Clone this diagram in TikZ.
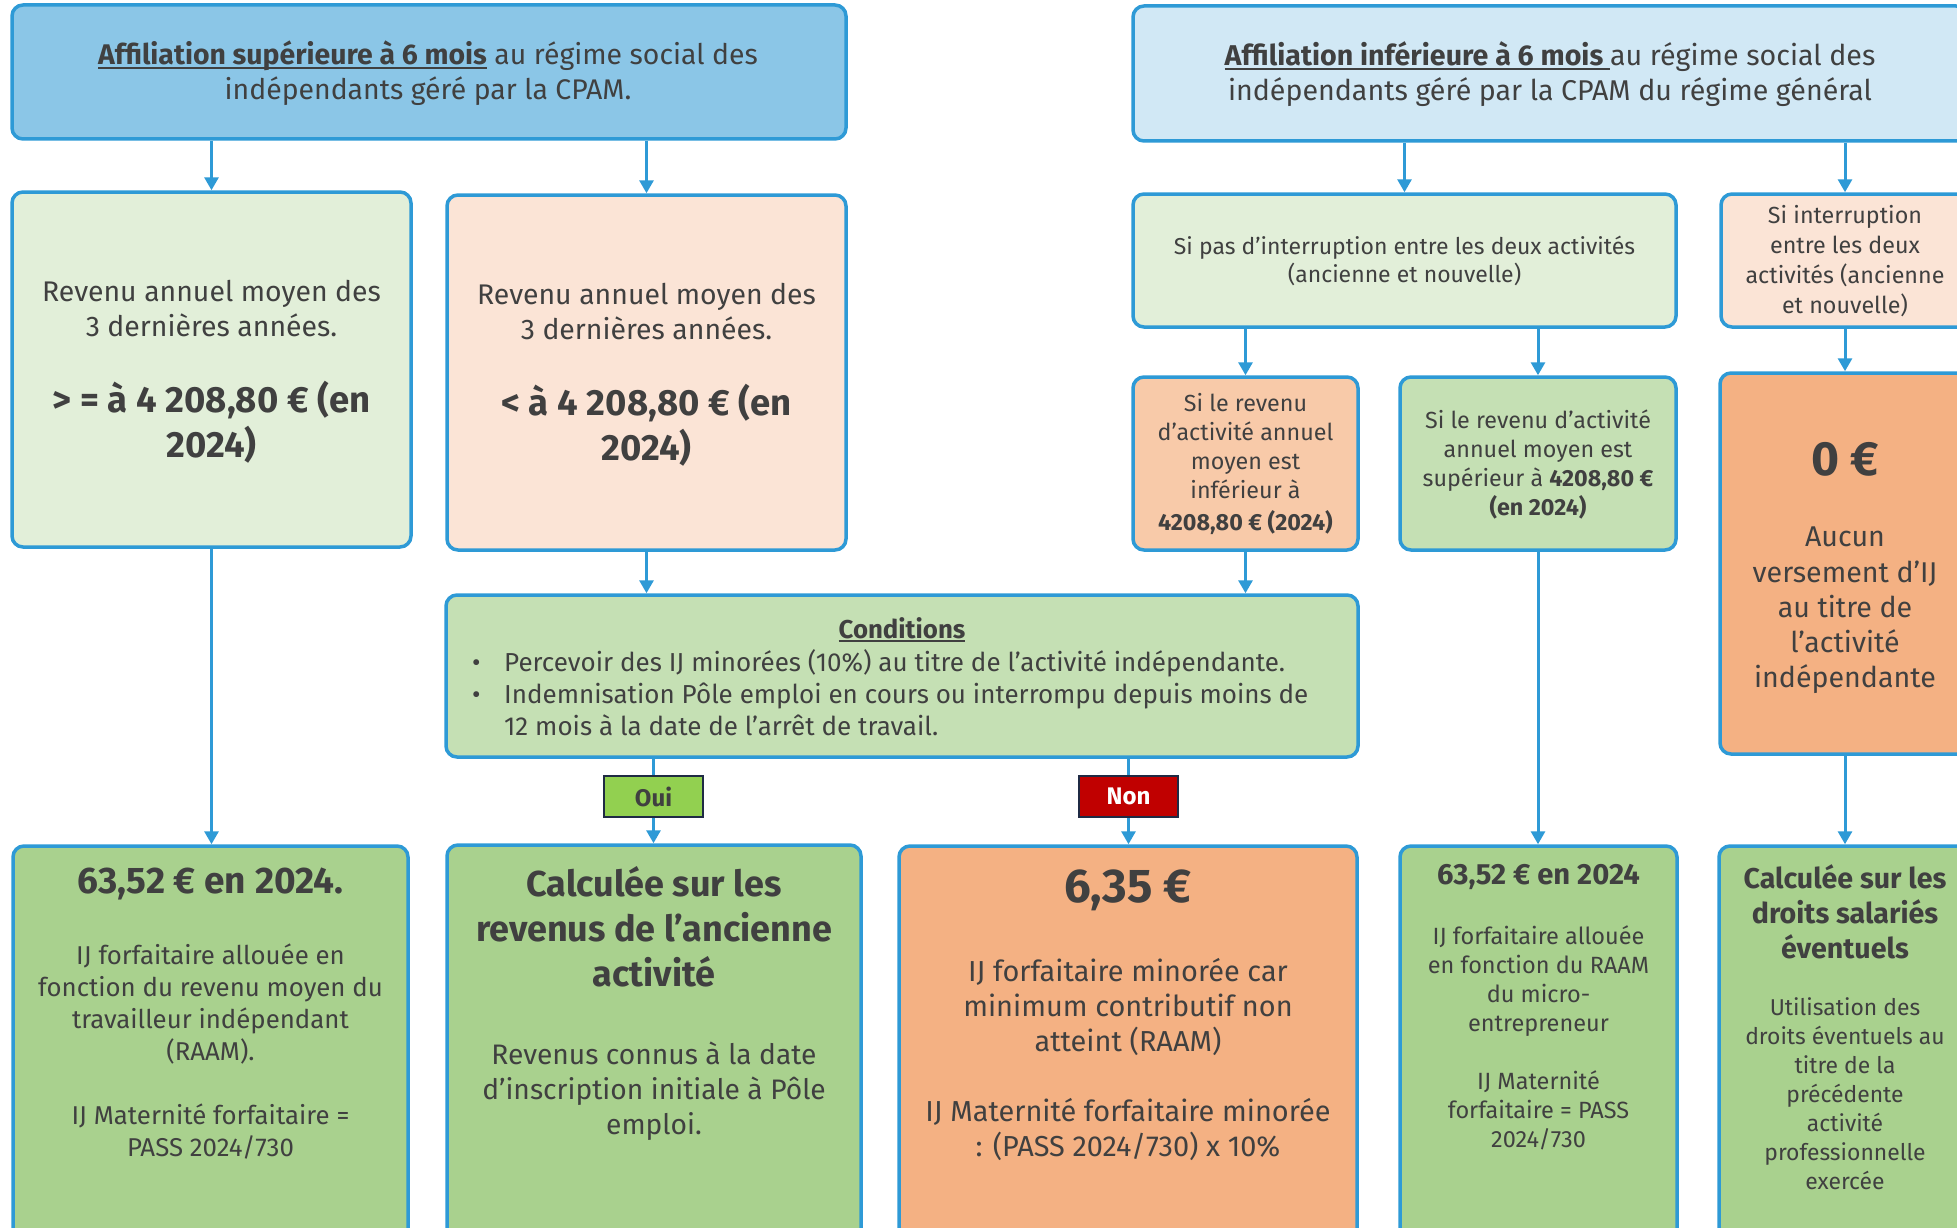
\documentclass[tikz,border=0pt]{standalone}
\usepackage{fontspec}
\setmainfont{Fira Sans}
\usetikzlibrary{arrows.meta}
\definecolor{bord}{HTML}{2E9AD6}
\definecolor{txtc}{HTML}{404040}
\definecolor{cA}{HTML}{8BC6E7}
\definecolor{cB}{HTML}{D1E8F5}
\definecolor{cLG}{HTML}{E2EFD9}
\definecolor{cLP}{HTML}{FBE4D6}
\definecolor{cPe}{HTML}{F8CAA9}
\definecolor{cMG}{HTML}{C5E0B4}
\definecolor{cSa}{HTML}{F4B183}
\definecolor{cG}{HTML}{A9D18E}
\definecolor{cOui}{HTML}{92D050}
\definecolor{cNon}{HTML}{C00000}
\definecolor{navy}{HTML}{1F2A44}
\newcommand{\setfs}[2]{\fontsize{#1}{#2}\selectfont}
\newcommand{\myul}[1]{\leavevmode\setbox0\hbox{#1}\rlap{\rule[-4pt]{\wd0}{2pt}}\box0\relax}
\begin{document}
\begin{tikzpicture}[x=1pt,y=-1pt,
  box/.style={draw=bord, line width=3.5pt, rounded corners=11pt, inner sep=0pt},
  conn/.style={draw=bord, line width=3pt, -{Triangle[width=14pt,length=13pt]}},
  plainline/.style={draw=bord, line width=3pt},
  tag/.style={draw=navy, line width=2.5pt, inner sep=0pt, minimum width=99pt, minimum height=41pt, font=\bfseries\setfs{24}{28}},
  txt/.style={text=txtc, align=center, inner sep=0pt}]
\useasboundingbox (0,0) rectangle (1957,1228);
\fill[white] (0,0) rectangle (1957,1228);
\clip (0,0) rectangle (1957,1228);

% boxes
\node[box, fill=cA, minimum width=834pt, minimum height=134pt] (A) at (429,72) {};
\node[box, fill=cB, minimum width=834pt, minimum height=135pt] (B) at (1550,73.5) {};
\node[box, fill=cLG, minimum width=399pt, minimum height=355pt] (C) at (211.5,369.5) {};
\node[box, fill=cLP, minimum width=399pt, minimum height=355pt] (D) at (646.5,372.5) {};
\node[box, fill=cLG, minimum width=543pt, minimum height=133pt] (E) at (1404.5,260.5) {};
\node[box, fill=cLP, minimum width=248pt, minimum height=133pt] (F) at (1845,260.5) {};
\node[box, fill=cPe, minimum width=225pt, minimum height=173pt] (G) at (1245.5,463.5) {};
\node[box, fill=cMG, minimum width=276pt, minimum height=173pt] (H) at (1538,463.5) {};
\node[box, fill=cSa, minimum width=250pt, minimum height=381pt] (I) at (1845,563.5) {};
\node[box, fill=cMG, minimum width=912pt, minimum height=162pt] (J) at (902,676) {};
\node[box, fill=cG, minimum width=395pt, minimum height=404pt] (K) at (210.5,1048) {};
\node[box, fill=cG, minimum width=414pt, minimum height=405pt] (L) at (654,1047.5) {};
\node[box, fill=cSa, minimum width=458pt, minimum height=404pt] (M) at (1128,1048) {};
\node[box, fill=cG, minimum width=277pt, minimum height=404pt] (N) at (1538.5,1048) {};
\node[box, fill=cG, minimum width=252pt, minimum height=404pt] (O) at (1845,1048) {};
\node[tag, fill=cOui, text=txtc] (Oui) at (653.5,796.5) {Oui};
\node[tag, fill=cNon, text=white] (Non) at (1128.5,796.5) {Non};

% connectors
\draw[conn] (A.south -| C.north) -- (C.north);
\draw[conn] (A.south -| D.north) -- (D.north);
\draw[conn] (B.south -| E.north) -- (E.north);
\draw[conn] (B.south -| F.north) -- (F.north);
\draw[conn] (E.south -| G.north) -- (G.north);
\draw[conn] (E.south -| H.north) -- (H.north);
\draw[conn] (F.south) -- (I.north);
\draw[conn] (D.south) -- (D.south |- J.north);
\draw[conn] (G.south) -- (G.south |- J.north);
\draw[conn] (C.south) -- (C.south |- K.north);
\draw[plainline] (J.south -| Oui.north) -- (Oui.north);
\draw[conn] (Oui.south) -- (Oui.south |- L.north);
\draw[plainline] (J.south -| Non.north) -- (Non.north);
\draw[conn] (Non.south) -- (Non.south |- M.north);
\draw[conn] (H.south) -- (H.south |- N.north);
\draw[conn] (I.south) -- (I.south |- O.north);

% texts
\node[txt, font=\setfs{28.4}{35}] (At) at (428,73.5) {\myul{\textbf{Affiliation supérieure à 6 mois}} au régime social des\\indépendants géré par la CPAM.};
\node[txt, font=\setfs{28.6}{35}] (Bt) at (1550,74.5) {\myul{\textbf{Affiliation inférieure à 6 mois }}au régime social des\\indépendants géré par la CPAM du régime général};
\node[txt, font=\setfs{28.4}{35}] (Ct1) at (211.5,308.5) {Revenu annuel moyen des\\3 dernières années.};
\node[txt, font=\bfseries\setfs{36.5}{45}] (Ct2) at (211.5,422.5) {> = à 4 208,80 € (en\\2024)};
\node[txt, font=\setfs{28.4}{35}] (Dt1) at (646.5,311.5) {Revenu annuel moyen des\\3 dernières années.};
\node[txt, font=\bfseries\setfs{36.5}{45}] (Dt2) at (646.5,425.5) {< à 4 208,80 € (en\\2024)};
\node[txt, font=\setfs{23}{28}] (Et) at (1404.5,261) {Si pas d’interruption entre les deux activités\\(ancienne et nouvelle)};
\node[txt, font=\setfs{23.3}{30}] (Ft) at (1845,261) {Si interruption\\entre les deux\\activités (ancienne\\et nouvelle)};
\node[txt, font=\setfs{23.3}{29}] (Gt) at (1245.5,464) {Si le revenu\\d’activité annuel\\moyen est\\inférieur à\\[3pt]\textbf{4208,80 € (2024)}};
\node[txt, font=\setfs{23.3}{29}] (Ht) at (1538,464.5) {Si le revenu d’activité\\annuel moyen est\\supérieur à \textbf{4208,80 €}\\\textbf{(en 2024)}};
\node[txt, font=\bfseries\setfs{48}{60}] (It1) at (1845,459) {0 €};
\node[txt, font=\setfs{28.6}{35.3}] (It2) at (1845,610.5) {Aucun\\versement d’IJ\\au titre de\\l’activité\\indépendante};
\node[txt, font=\bfseries\setfs{25.8}{30}] (Jt1) at (902,630) {\myul{Conditions}};
\node[txt, align=left, anchor=west, font=\setfs{26}{32}] (Jt2) at (472,693) {\makebox[32pt][l]{•}Percevoir des IJ minorées (10\%) au titre de l’activité indépendante.\\\makebox[32pt][l]{•}Indemnisation Pôle emploi en cours ou interrompu depuis moins de\\\hspace*{32pt}12 mois à la date de l’arrêt de travail.};
\node[txt, font=\bfseries\setfs{37}{40}] (Kt1) at (210.5,884) {63,52 € en 2024.};
\node[txt, font=\setfs{25.8}{32}] (Kt2) at (210.5,1051.5) {IJ forfaitaire allouée en\\fonction du revenu moyen du\\travailleur indépendant\\(RAAM).\\[32pt]IJ Maternité forfaitaire =\\PASS 2024/730};
\node[txt, font=\bfseries\setfs{36}{45}] (Lt1) at (654,927) {Calculée sur les\\revenus de l’ancienne\\activité};
\node[txt, font=\setfs{28.2}{35}] (Lt2) at (654,1091) {Revenus connus à la date\\d’inscription initiale à Pôle\\emploi.};
\node[txt, font=\bfseries\setfs{47.4}{56}] (Mt1) at (1128,890) {6,35 €};
\node[txt, font=\setfs{28.9}{35}] (Mt2) at (1128,1059.5) {IJ forfaitaire minorée car\\minimum contributif non\\atteint (RAAM)\\[35pt]IJ Maternité forfaitaire minorée\\: (PASS 2024/730) x 10\%};
\node[txt, font=\bfseries\setfs{29.2}{35}] (Nt1) at (1538.5,877) {63,52 € en 2024};
\node[txt, font=\setfs{23.5}{29}] (Nt2) at (1538.5,1038) {IJ forfaitaire allouée\\en fonction du RAAM\\du micro-\\entrepreneur\\[29pt]IJ Maternité\\forfaitaire = PASS\\2024/730};
\node[txt, font=\bfseries\setfs{28.6}{35}] (Ot1) at (1845,912) {Calculée sur les\\droits salariés\\éventuels};
\node[txt, font=\setfs{22.9}{29}] (Ot2) at (1845,1094) {Utilisation des\\droits éventuels au\\titre de la\\précédente\\activité\\professionnelle\\exercée};
\end{tikzpicture}
\end{document}
